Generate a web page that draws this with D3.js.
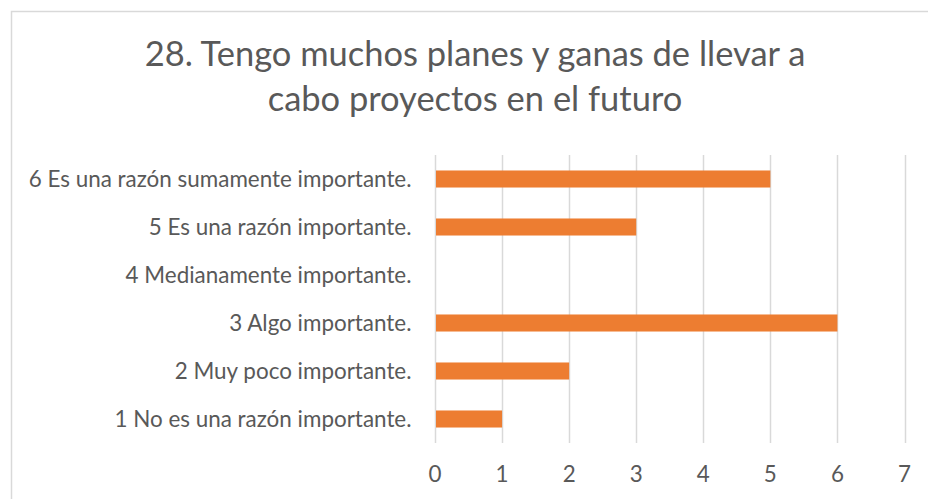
<!DOCTYPE html>
<html>
<head>
<meta charset="utf-8">
<script src="https://cdn.jsdelivr.net/npm/d3@7"></script>
<style>
  html, body { margin: 0; padding: 0; background: #fff; }
  svg { display: block; font-family: Lato, "Open Sans", sans-serif; }
</style>
</head>
<body>
<div id="chart"></div>
<script>
// chart data
var titleLines = ['28. Tengo muchos planes y ganas de llevar a', 'cabo proyectos en el futuro']
var categories = [
  '6 Es una razón sumamente importante.',
  '5 Es una razón importante.',
  '4 Medianamente importante.',
  '3 Algo importante.',
  '2 Muy poco importante.',
  '1 No es una razón importante.'
]
var values = [5, 3, 0, 6, 2, 1]
var xTicks = [0, 1, 2, 3, 4, 5, 6, 7]

var width = 928
var height = 499
var plot = { left: 435, right: 904.5, top: 155, bottom: 443 }
var textColor = '#595959'
var gridColor = '#d9d9d9'
var barColor = '#ed7d31'

var svg = d3.select('#chart').append('svg')
  .attr('width', width)
  .attr('height', height)

// chart frame (cropped on right / bottom)
svg.append('path')
  .attr('d', 'M11.5,' + height + 'V11.5H' + width)
  .attr('fill', 'none')
  .attr('stroke', gridColor)
  .attr('stroke-width', 1.5)

var x = d3.scaleLinear().domain([0, 7]).range([plot.left, plot.right])
var y = d3.scaleBand().domain(categories).range([plot.top, plot.bottom]).paddingInner(0.645).paddingOuter(0.3225)

// shrink / grow font so a text matches a measured width
function fitFont(sel, target, start) {
  sel.style('font-size', start + 'px')
  var w = sel.node().getComputedTextLength()
  var size = start * target / w
  sel.style('font-size', size + 'px')
  return size
}

// title
var title = svg.append('g')
var t1 = title.append('text')
  .attr('x', 475).attr('y', 66)
  .attr('text-anchor', 'middle')
  .attr('fill', textColor)
  .text(titleLines[0])
var titleSize = fitFont(t1, 661, 32)
title.append('text')
  .attr('x', 475).attr('y', 111)
  .attr('text-anchor', 'middle')
  .attr('fill', textColor)
  .style('font-size', titleSize + 'px')
  .text(titleLines[1])

// vertical gridlines
svg.append('g')
  .selectAll('line')
  .data(xTicks)
  .join('line')
  .attr('x1', function(d) { return Math.round(x(d)) + 0.5 })
  .attr('x2', function(d) { return Math.round(x(d)) + 0.5 })
  .attr('y1', plot.top)
  .attr('y2', plot.bottom)
  .attr('stroke', gridColor)
  .attr('stroke-width', 1.5)

// bars
svg.append('g')
  .selectAll('rect')
  .data(values)
  .join('rect')
  .attr('x', x(0) + 1)
  .attr('y', function(d, i) { return y(categories[i]) })
  .attr('width', function(d) { return Math.max(0, x(d) - x(0) - 1) })
  .attr('height', y.bandwidth())
  .attr('fill', barColor)

// category labels
var cats = svg.append('g')
  .selectAll('text')
  .data(categories)
  .join('text')
  .attr('x', 411.5)
  .attr('y', function(d) { return y(d) + y.bandwidth() / 2 })
  .attr('dy', '0.35em')
  .attr('text-anchor', 'end')
  .attr('fill', textColor)
  .text(function(d) { return d })
var labelSize = fitFont(d3.select(cats.nodes()[0]), 383, 17)
cats.style('font-size', labelSize + 'px')

// x axis tick labels
svg.append('g')
  .selectAll('text')
  .data(xTicks)
  .join('text')
  .attr('x', function(d) { return x(d) })
  .attr('y', 482)
  .attr('text-anchor', 'middle')
  .attr('fill', textColor)
  .style('font-size', labelSize + 'px')
  .text(function(d) { return d })
</script>
</body>
</html>
